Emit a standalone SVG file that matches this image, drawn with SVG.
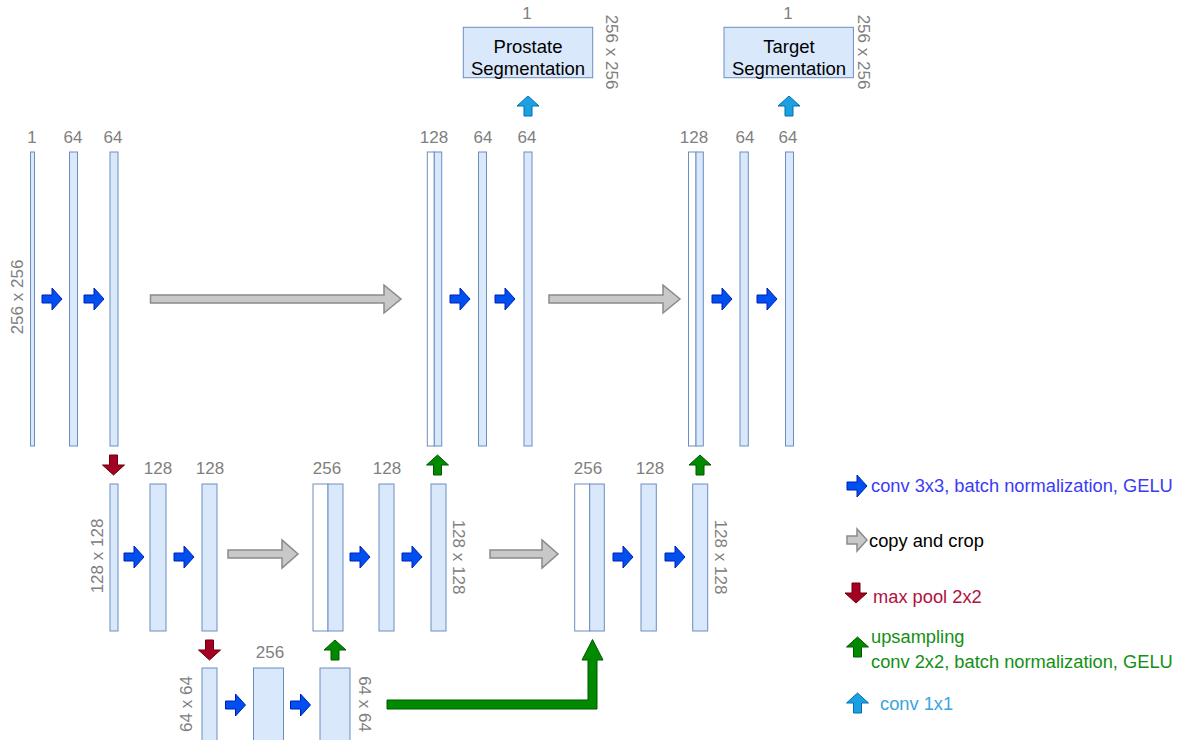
<svg xmlns="http://www.w3.org/2000/svg" xmlns:xlink="http://www.w3.org/1999/xlink" width="1183" height="740" viewBox="0 0 1183 740">
  <style>
    .fm { fill: #dae8fc; stroke: #6c8ebf; stroke-width: 1; }
    .fw { fill: #ffffff; stroke: #6c8ebf; stroke-width: 1; }
    .num { font-family: "Liberation Sans", Arial, sans-serif; font-size: 17px; fill: #808080; text-anchor: middle; }
    .dim { font-family: "Liberation Sans", Arial, sans-serif; font-size: 17px; fill: #808080; text-anchor: middle; dominant-baseline: central; }
    .box { font-family: "Liberation Sans", Arial, sans-serif; font-size: 18.5px; fill: #000000; text-anchor: middle; }
    .leg { font-family: "Liberation Sans", Arial, sans-serif; font-size: 18.3px; }
    .conv { fill: #0050ef; stroke: #001dbc; stroke-width: 1; }
    .pool { fill: #a20025; stroke: #6f0000; stroke-width: 1; }
    .up { fill: #008a00; stroke: #005700; stroke-width: 1; }
    .out { fill: #1ba1e2; stroke: #006eaf; stroke-width: 1; }
    .copy { fill: #c8c8c8; stroke: #8a8a8a; stroke-width: 1.5; }
  </style>
  <defs>
    <!-- small block arrow pointing right, centred on the origin -->
    <path id="arr" d="M-10,-4 H0 V-11 L10,0 L0,11 V4 H-10 Z"/>
  </defs>

  <!-- level 1 encoder -->
  <g id="enc1">
    <rect class="fm" x="30.5" y="152" width="4" height="294"/>
    <rect class="fm" x="69.5" y="152" width="8" height="294"/>
    <rect class="fm" x="110" y="152" width="8" height="294"/>
    <text class="num" x="32" y="142.5">1</text>
    <text class="num" x="73" y="142.5">64</text>
    <text class="num" x="113" y="142.5">64</text>
    <text class="dim" transform="translate(17,297) rotate(-90)">256 x 256</text>
  </g>

  <!-- level 2 encoder -->
  <g id="enc2">
    <rect class="fm" x="110" y="484" width="8" height="147"/>
    <rect class="fm" x="150" y="484" width="16" height="147"/>
    <rect class="fm" x="202" y="484" width="15" height="147"/>
    <text class="num" x="158" y="474">128</text>
    <text class="num" x="210" y="474">128</text>
    <text class="dim" transform="translate(97,556) rotate(-90)">128 x 128</text>
  </g>

  <!-- bottleneck -->
  <g id="bottleneck">
    <rect class="fm" x="202" y="668" width="15" height="80"/>
    <rect class="fm" x="253.5" y="668" width="30" height="80"/>
    <rect class="fm" x="320" y="668" width="30" height="80"/>
    <text class="num" x="270" y="658">256</text>
    <text class="dim" transform="translate(186,704) rotate(-90)">64 x 64</text>
    <text class="dim" transform="translate(364,704) rotate(90)">64 x 64</text>
  </g>

  <!-- level 2 decoder, first branch -->
  <g id="dec2a">
    <rect class="fw" x="313" y="484" width="15" height="147"/>
    <rect class="fm" x="328" y="484" width="15" height="147"/>
    <rect class="fm" x="379" y="484" width="15" height="147"/>
    <rect class="fm" x="431" y="484" width="15" height="147"/>
    <text class="num" x="327" y="474">256</text>
    <text class="num" x="387" y="474">128</text>
    <text class="dim" transform="translate(458,557) rotate(90)">128 x 128</text>
  </g>

  <!-- level 1 decoder, first branch -->
  <g id="dec1a">
    <rect class="fw" x="427.3" y="152" width="7" height="294"/>
    <rect class="fm" x="434.3" y="152" width="7.4" height="294"/>
    <rect class="fm" x="478.5" y="152" width="8" height="294"/>
    <rect class="fm" x="524" y="152" width="8" height="294"/>
    <text class="num" x="434" y="142.5">128</text>
    <text class="num" x="483" y="142.5">64</text>
    <text class="num" x="527" y="142.5">64</text>
  </g>

  <!-- prostate output -->
  <g id="out-prostate">
    <rect class="fm" x="463.3" y="27.3" width="129.4" height="50.4"/>
    <text class="box" x="528" y="53">Prostate</text>
    <text class="box" x="528" y="75">Segmentation</text>
    <text class="num" x="527" y="19">1</text>
    <text class="dim" transform="translate(611,52) rotate(90)">256 x 256</text>
  </g>

  <!-- level 2 decoder, second branch -->
  <g id="dec2b">
    <rect class="fw" x="574.7" y="484" width="15" height="147"/>
    <rect class="fm" x="589.7" y="484" width="14.6" height="147"/>
    <rect class="fm" x="641" y="484" width="15.3" height="147"/>
    <rect class="fm" x="692.7" y="484" width="15" height="147"/>
    <text class="num" x="588" y="474">256</text>
    <text class="num" x="650" y="474">128</text>
    <text class="dim" transform="translate(720,557) rotate(90)">128 x 128</text>
  </g>

  <!-- level 1 decoder, second branch -->
  <g id="dec1b">
    <rect class="fw" x="688.5" y="152" width="7.5" height="294"/>
    <rect class="fm" x="696" y="152" width="7.3" height="294"/>
    <rect class="fm" x="740" y="152" width="8.3" height="294"/>
    <rect class="fm" x="785.5" y="152" width="8" height="294"/>
    <text class="num" x="694" y="142.5">128</text>
    <text class="num" x="745" y="142.5">64</text>
    <text class="num" x="788" y="142.5">64</text>
  </g>

  <!-- target output -->
  <g id="out-target">
    <rect class="fm" x="724" y="27.3" width="129.4" height="50.4"/>
    <text class="box" x="789" y="53">Target</text>
    <text class="box" x="789" y="75">Segmentation</text>
    <text class="num" x="788" y="19">1</text>
    <text class="dim" transform="translate(863,52) rotate(90)">256 x 256</text>
  </g>

  <!-- operations between feature maps -->
  <g id="connectors">
    <!-- conv 3x3 -->
    <use href="#arr" class="conv" transform="translate(52,299)"/>
    <use href="#arr" class="conv" transform="translate(94,299)"/>
    <use href="#arr" class="conv" transform="translate(460,299)"/>
    <use href="#arr" class="conv" transform="translate(505,299)"/>
    <use href="#arr" class="conv" transform="translate(722,299)"/>
    <use href="#arr" class="conv" transform="translate(767,299)"/>
    <use href="#arr" class="conv" transform="translate(134,557)"/>
    <use href="#arr" class="conv" transform="translate(184,557)"/>
    <use href="#arr" class="conv" transform="translate(360,557)"/>
    <use href="#arr" class="conv" transform="translate(412,557)"/>
    <use href="#arr" class="conv" transform="translate(623,557)"/>
    <use href="#arr" class="conv" transform="translate(675,557)"/>
    <use href="#arr" class="conv" transform="translate(235.5,705)"/>
    <use href="#arr" class="conv" transform="translate(300.5,705)"/>

    <!-- copy and crop -->
    <path class="copy" d="M150.5,295 H384 V285 L401,299 L384,313 V303 H150.5 Z"/>
    <path class="copy" d="M549,295 H663 V285 L680,299 L663,313 V303 H549 Z"/>
    <path class="copy" d="M228,550 H282 V540 L298,554 L282,568 V558 H228 Z"/>
    <path class="copy" d="M490,550 H542 V540 L558,554 L542,568 V558 H490 Z"/>

    <!-- max pool -->
    <use href="#arr" class="pool" transform="translate(113.5,465) rotate(90)"/>
    <use href="#arr" class="pool" transform="translate(209.5,650) rotate(90)"/>

    <!-- upsampling -->
    <use href="#arr" class="up" transform="translate(437.5,465) rotate(-90)"/>
    <use href="#arr" class="up" transform="translate(700,465) rotate(-90)"/>
    <use href="#arr" class="up" transform="translate(335,650) rotate(-90)"/>
    <path class="up" d="M387,700 H588 V660 H582 L592.5,639.5 L603,660 H597 V709 H387 Z"/>

    <!-- conv 1x1 -->
    <use href="#arr" class="out" transform="translate(528,106) rotate(-90)"/>
    <use href="#arr" class="out" transform="translate(789,106) rotate(-90)"/>
  </g>

  <!-- legend -->
  <g id="legend">
    <use href="#arr" class="conv" transform="translate(857,486)"/>
    <text class="leg" x="871" y="492" fill="#3b3bf5">conv 3x3, batch normalization, GELU</text>
    <use href="#arr" class="copy" transform="translate(857,540)"/>
    <text class="leg" x="869" y="547" fill="#000000">copy and crop</text>
    <use href="#arr" class="pool" transform="translate(856,593) rotate(90)"/>
    <text class="leg" x="873" y="603" fill="#b01040">max pool 2x2</text>
    <use href="#arr" class="up" transform="translate(857.5,647) rotate(-90)"/>
    <text class="leg" x="871" y="643" fill="#139013">upsampling</text>
    <text class="leg" x="871" y="668" fill="#139013">conv 2x2, batch normalization, GELU</text>
    <use href="#arr" class="out" transform="translate(857.5,703) rotate(-90)"/>
    <text class="leg" x="880" y="710" fill="#3aa6e0">conv 1x1</text>
  </g>
</svg>
